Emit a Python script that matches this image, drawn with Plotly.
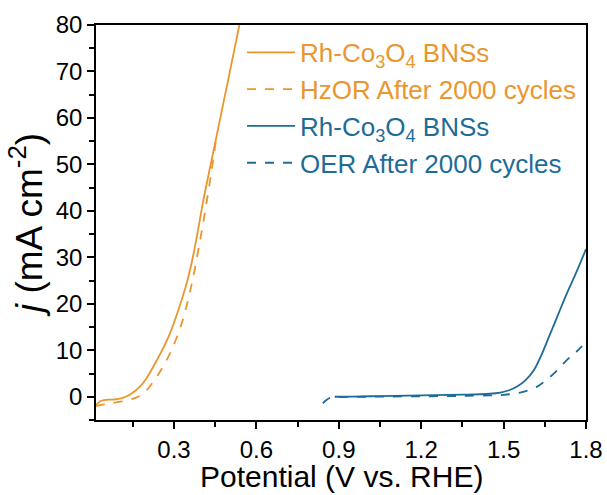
import plotly.graph_objects as go

# HzOR (orange)
hz_x = [0.016, 0.03, 0.045, 0.08, 0.11, 0.14, 0.176, 0.20, 0.225, 0.255, 0.285, 0.315, 0.346, 0.365, 0.383, 0.407, 0.44, 0.47, 0.50, 0.538]
hz_y = [-1.8, -1.0, -0.7, -0.6, -0.3, 0.5, 2.2, 4.0, 6.5, 9.8, 13.6, 18.5, 24.4, 29.0, 34.4, 42.3, 51.8, 60.4, 69.0, 80.0]
hz2_x = [0.016, 0.04, 0.067, 0.11, 0.152, 0.188, 0.237, 0.285, 0.328, 0.365, 0.395, 0.415, 0.435, 0.456]
hz2_y = [-2.0, -1.7, -1.4, -1.0, -0.4, 0.7, 4.3, 9.3, 15.8, 24.4, 33.7, 40.5, 48.0, 56.5]

# OER (blue)
oer_x = [0.885, 0.95, 1.05, 1.15, 1.25, 1.35, 1.45, 1.488, 1.52, 1.549, 1.58, 1.61, 1.64, 1.67, 1.70, 1.73, 1.765, 1.80]
oer_y = [0.0, 0.05, 0.15, 0.25, 0.35, 0.45, 0.65, 0.9, 1.4, 2.2, 3.6, 5.7, 9.3, 13.6, 17.9, 22.2, 26.8, 31.8]
oer2_x = [0.842, 0.855, 0.869, 0.90, 1.0, 1.1, 1.2, 1.3, 1.367, 1.45, 1.50, 1.56, 1.61, 1.64, 1.67, 1.70, 1.73, 1.76, 1.786]
oer2_y = [-1.4, -0.7, -0.2, -0.05, 0.0, 0.05, 0.1, 0.15, 0.2, 0.3, 0.4, 0.9, 1.8, 2.9, 4.3, 6.0, 7.9, 9.4, 10.9]

x_ticks = [0.3, 0.6, 0.9, 1.2, 1.5, 1.8]
y_ticks = [0, 10, 20, 30, 40, 50, 60, 70, 80]
x_title = "Potential (V vs. RHE)"

ORANGE = "#EA962E"
BLUE = "#1D6C97"
FONT = "Arial, Liberation Sans, sans-serif"

def nm(text, color):
    return f'<span style="color:{color}">{text}</span>'

fig = go.Figure()
fig.add_trace(go.Scatter(x=hz_x, y=hz_y, mode="lines", line=dict(color=ORANGE, width=1.8, shape="spline"),
                         name=nm("Rh-Co<sub>3</sub>O<sub>4</sub> BNSs", ORANGE), legendgroup="a"))
fig.add_trace(go.Scatter(x=hz2_x, y=hz2_y, mode="lines", line=dict(color=ORANGE, width=1.8, dash="dash", shape="spline"),
                         name=nm("HzOR After 2000 cycles", ORANGE), legendgroup="b"))
fig.add_trace(go.Scatter(x=oer_x, y=oer_y, mode="lines", line=dict(color=BLUE, width=1.8, shape="spline"),
                         name=nm("Rh-Co<sub>3</sub>O<sub>4</sub> BNSs", BLUE), legendgroup="c"))
fig.add_trace(go.Scatter(x=oer2_x, y=oer2_y, mode="lines", line=dict(color=BLUE, width=1.8, dash="dash", shape="spline"),
                         name=nm("OER After 2000 cycles", BLUE), legendgroup="d"))

axis_common = dict(showline=True, linecolor="black", linewidth=1.5, mirror=True, showgrid=False, zeroline=False,
                   ticks="outside", ticklen=7, tickwidth=1.5, tickcolor="black", automargin=False,
                   tickfont=dict(family=FONT, size=24, color="black"))

fig.update_xaxes(range=[0.016, 1.8], tickvals=x_ticks, ticktext=[f"{v:.1f}" for v in x_ticks],
                 minor=dict(ticks="outside", ticklen=5, tickwidth=1.5, tickcolor="black", dtick=0.15, tick0=0.15),
                 **axis_common)
fig.update_yaxes(range=[-5, 80], tickvals=y_ticks,
                 minor=dict(ticks="outside", ticklen=5, tickwidth=1.5, tickcolor="black", dtick=5, tick0=-5),
                 title=dict(text="<i>j</i> (mA cm<sup>-2</sup>)", font=dict(family=FONT, size=37, color="black"), standoff=2),
                 **axis_common)

fig.add_annotation(text=x_title, xref="paper", yref="paper", x=0.5, y=-0.142,
                   xanchor="center", yanchor="middle", showarrow=False,
                   font=dict(family=FONT, size=30, color="black"))

fig.update_layout(
    width=607, height=495,
    margin=dict(l=96, r=21, t=25, b=75),
    plot_bgcolor="white", paper_bgcolor="white",
    showlegend=True,
    legend=dict(x=0.298, y=0.99, xanchor="left", yanchor="top", bgcolor="rgba(0,0,0,0)",
                font=dict(family=FONT, size=26),
                tracegroupgap=0, itemwidth=48),
)

fig.write_html("out.html")
